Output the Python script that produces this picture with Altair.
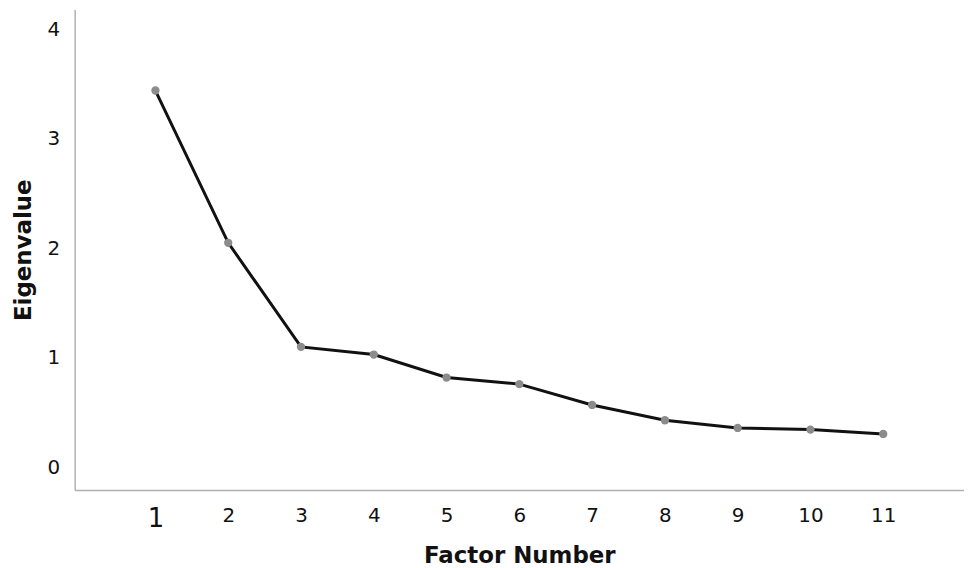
import altair as alt
import pandas as pd

factor = [1, 2, 3, 4, 5, 6, 7, 8, 9, 10, 11]
eigen = [3.44, 2.05, 1.10, 1.03, 0.82, 0.76, 0.57, 0.43, 0.36, 0.345, 0.305]
x_ticks = [1, 2, 3, 4, 5, 6, 7, 8, 9, 10, 11]
y_ticks = [0, 1, 2, 3, 4]

df = pd.DataFrame({"Factor Number": factor, "Eigenvalue": eigen})

FONT = "DejaVu Sans"

x = alt.X(
    "Factor Number:Q",
    scale=alt.Scale(domain=[-0.11, 12.11], nice=False, zero=False),
    axis=alt.Axis(
        values=x_ticks,
        grid=False,
        ticks=False,
        domainColor="#b0b0b0",
        domainWidth=1.5,
        labelFont=FONT,
        labelFontSize={"condition": {"test": "datum.value == 1", "value": 26}, "value": 20},
        labelColor="#111111",
        labelPadding=16,
        title="Factor Number",
        titleFont=FONT,
        titleFontSize=23,
        titleFontWeight="bold",
        titleColor="#111111",
        titlePadding=13,
    ),
)

y = alt.Y(
    "Eigenvalue:Q",
    scale=alt.Scale(domain=[-0.206, 4.18], nice=False, zero=False),
    axis=alt.Axis(
        values=y_ticks,
        grid=False,
        ticks=False,
        domainColor="#b0b0b0",
        domainWidth=1.5,
        labelFont=FONT,
        labelFontSize=20,
        labelColor="#111111",
        labelPadding=15,
        title="Eigenvalue",
        titleFont=FONT,
        titleFontSize=23,
        titleFontWeight="bold",
        titleColor="#111111",
        titlePadding=12,
    ),
)

line = alt.Chart(df).mark_line(color="#111111", strokeWidth=3).encode(x=x, y=y)
pts = alt.Chart(df).mark_circle(color="#8c8c8c", opacity=1, size=70).encode(x=x, y=y)

chart = (
    alt.layer(line, pts)
    .properties(
        width=894,
        height=483,
        background="white",
        autosize=alt.AutoSizeParams(type="none"),
        padding={"left": 67, "top": 0, "right": 0, "bottom": 77},
    )
    .configure_view(strokeWidth=0, stroke=None)
)

chart.save("out.html", embed_options={"renderer": "svg", "actions": False})
